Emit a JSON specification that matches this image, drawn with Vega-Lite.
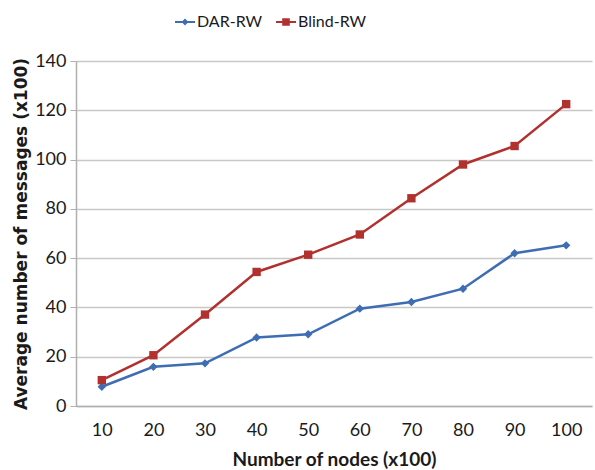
{
  "$schema": "https://vega.github.io/schema/vega-lite/v6.json",
  "width": 516,
  "height": 345,
  "autosize": {"type": "none"},
  "padding": {"left": 76, "top": 61, "right": 3, "bottom": 64},
  "background": "white",
  "config": {
    "view": {"stroke": null},
    "font": "Lato"
  },
  "data": {
    "values": [
      {"nodes": 10, "series": "DAR-RW", "messages": 7.8},
      {"nodes": 20, "series": "DAR-RW", "messages": 15.9},
      {"nodes": 30, "series": "DAR-RW", "messages": 17.3},
      {"nodes": 40, "series": "DAR-RW", "messages": 27.8},
      {"nodes": 50, "series": "DAR-RW", "messages": 29.1},
      {"nodes": 60, "series": "DAR-RW", "messages": 39.5},
      {"nodes": 70, "series": "DAR-RW", "messages": 42.2},
      {"nodes": 80, "series": "DAR-RW", "messages": 47.6},
      {"nodes": 90, "series": "DAR-RW", "messages": 62},
      {"nodes": 100, "series": "DAR-RW", "messages": 65.2},
      {"nodes": 10, "series": "Blind-RW", "messages": 10.5},
      {"nodes": 20, "series": "Blind-RW", "messages": 20.6},
      {"nodes": 30, "series": "Blind-RW", "messages": 37.1},
      {"nodes": 40, "series": "Blind-RW", "messages": 54.4},
      {"nodes": 50, "series": "Blind-RW", "messages": 61.4},
      {"nodes": 60, "series": "Blind-RW", "messages": 69.6},
      {"nodes": 70, "series": "Blind-RW", "messages": 84.3},
      {"nodes": 80, "series": "Blind-RW", "messages": 98},
      {"nodes": 90, "series": "Blind-RW", "messages": 105.5},
      {"nodes": 100, "series": "Blind-RW", "messages": 122.5}
    ]
  },
  "encoding": {
    "x": {
      "field": "nodes",
      "type": "ordinal",
      "scale": {"type": "point", "padding": 0.5},
      "axis": {
        "title": "Number of nodes (x100)",
        "titleFontSize": 19,
        "titleFontWeight": "bold",
        "titleColor": "#1a1a1a",
        "titlePadding": 11,
        "labelAngle": 0,
        "labelFontSize": 18,
        "labelColor": "#1a1a1a",
        "labelPadding": 15,
        "ticks": false,
        "domainColor": "#b0b0b0",
        "domainWidth": 1.5,
        "grid": false
      }
    },
    "y": {
      "field": "messages",
      "type": "quantitative",
      "scale": {"domain": [0, 140], "nice": false},
      "axis": {
        "values": [0, 20, 40, 60, 80, 100, 120, 140],
        "title": "Average number of messages (x100)",
        "titleFont": "DejaVu Sans",
        "titleFontSize": 17,
        "titleFontWeight": "bold",
        "titleColor": "#1a1a1a",
        "titlePadding": 4,
        "labelFontSize": 18,
        "labelColor": "#1a1a1a",
        "labelPadding": 4,
        "tickColor": "#b0b0b0",
        "tickSize": 6,
        "domainColor": "#b0b0b0",
        "domainWidth": 1.5,
        "gridColor": "#c8c8c8",
        "gridWidth": 1.5
      }
    },
    "color": {
      "field": "series",
      "type": "nominal",
      "sort": ["DAR-RW", "Blind-RW"],
      "scale": {"domain": ["DAR-RW", "Blind-RW"], "range": ["#3e6db3", "#b1312f"]}
    }
  },
  "layer": [
    {
      "mark": {"type": "line", "strokeWidth": 2.5},
      "encoding": {
        "color": {
          "field": "series",
          "type": "nominal",
          "sort": ["DAR-RW", "Blind-RW"],
          "legend": {
            "title": null,
            "orient": "none",
            "direction": "horizontal",
            "legendX": 99,
            "legendY": -49,
            "labelFontSize": 16,
            "labelColor": "#1a1a1a",
            "labelOffset": 2,
            "columnPadding": 13,
            "symbolSize": 400,
            "encode": {
              "symbols": {
                "update": {
                  "shape": {"signal": "datum.value === 'DAR-RW' ? 'M-1,-0.1H1V0.1H-1Z M0,-0.34L0.34,0L0,0.34L-0.34,0Z' : 'M-1,-0.1H1V0.1H-1Z M-0.38,-0.38H0.38V0.38H-0.38Z'"},
                  "size": {"value": 400},
                  "fill": {"signal": "scale('color', datum.value)"},
                  "stroke": {"value": "transparent"},
                  "strokeWidth": {"value": 0},
                  "fillOpacity": {"value": 1},
                  "opacity": {"value": 1}
                }
              }
            }
          }
        }
      }
    },
    {
      "transform": [{"filter": "datum.series === 'DAR-RW'"}],
      "mark": {"type": "point", "shape": "diamond", "size": 70, "filled": true, "opacity": 1},
      "encoding": {
        "color": {"field": "series", "type": "nominal", "sort": ["DAR-RW", "Blind-RW"], "legend": null}
      }
    },
    {
      "transform": [{"filter": "datum.series === 'Blind-RW'"}],
      "mark": {"type": "point", "shape": "square", "size": 70, "filled": true, "opacity": 1},
      "encoding": {
        "color": {"field": "series", "type": "nominal", "sort": ["DAR-RW", "Blind-RW"], "legend": null}
      }
    }
  ]
}
